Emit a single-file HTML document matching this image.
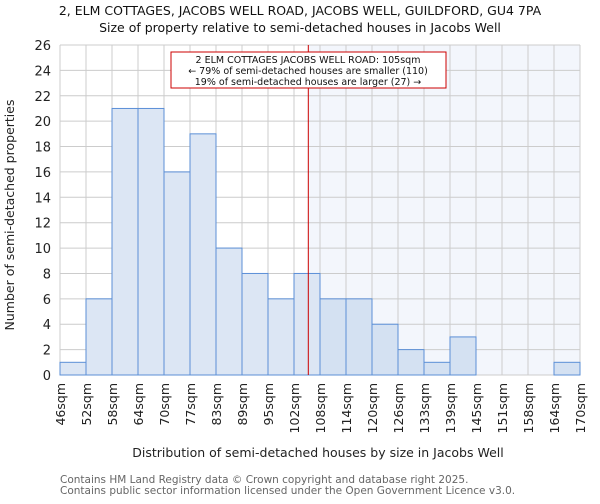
<!DOCTYPE html>
<html><head><meta charset="utf-8"><style>
body{margin:0;background:#fff;font-family:"DejaVu Sans","Liberation Sans",sans-serif;}
svg text{font-family:"DejaVu Sans","Liberation Sans",sans-serif;}
</style></head><body>
<svg id="c" width="600" height="500"></svg>
<script>
const categories=["46sqm","52sqm","58sqm","64sqm","70sqm","77sqm","83sqm","89sqm","95sqm","102sqm","108sqm","114sqm","120sqm","126sqm","133sqm","139sqm","145sqm","151sqm","158sqm","164sqm","170sqm"];
const counts=[1,6,21,21,16,19,10,8,6,8,6,6,4,2,1,3,0,0,0,1];
const yTicks=[0,2,4,6,8,10,12,14,16,18,20,22,24,26];
const markerBin=9.55;
const NS="http://www.w3.org/2000/svg";
const svg=document.getElementById('c');
const L=60,R=580,T=45,B=375,yMax=26;
const bw=(R-L)/counts.length;
const x=i=>L+i*bw;
const y=v=>B-(v/yMax)*(B-T);
function el(t,a,p){const e=document.createElementNS(NS,t);for(const k in a)e.setAttribute(k,a[k]);(p||svg).appendChild(e);return e;}
const mx=x(markerBin);
const sh=el('rect',{x:mx,y:T,width:R-mx,height:B-T,fill:'#f3f6fc'});


for(let i=0;i<=counts.length;i++){const g=el('line',{x1:x(i),x2:x(i),y1:T,y2:B,stroke:'#cccccc','stroke-width':1});

}
yTicks.forEach(v=>{const g=el('line',{x1:L,x2:R,y1:y(v),y2:y(v),stroke:'#cccccc','stroke-width':1});


const t=el('text',{x:L-9,y:y(v)+5,'text-anchor':'end','font-size':13,fill:'#222'});t.textContent=v;

});
counts.forEach((v,i)=>{if(v<=0)return;const r=el('rect',{x:x(i),y:y(v),width:bw,height:B-y(v),fill:(i>=10?'#d4e1f2':'#dce6f4'),stroke:'#5b8fd6','stroke-width':1});

});
categories.forEach((c,i)=>{const t=el('text',{transform:`translate(${x(i)+5},383) rotate(-90)`,'text-anchor':'end','font-size':12.5,fill:'#222'});t.textContent=c;

});
const ml=el('line',{x1:mx,x2:mx,y1:T,y2:B,stroke:'#cc0000','stroke-width':1});


const box=el('rect',{x:171,y:52,width:275,height:36,fill:'#fff',stroke:'#cc0000','stroke-width':1});


["2 ELM COTTAGES JACOBS WELL ROAD: 105sqm","← 79% of semi-detached houses are smaller (110)","19% of semi-detached houses are larger (27) →"].forEach((s,k)=>{const t=el('text',{x:308,y:63+k*11,'text-anchor':'middle','font-size':9.5,fill:'#111'});t.textContent=s;

});
const t1=el('text',{x:300,y:15,'text-anchor':'middle','font-size':12.5,fill:'#111'});t1.textContent="2, ELM COTTAGES, JACOBS WELL ROAD, JACOBS WELL, GUILDFORD, GU4 7PA";


const t2=el('text',{x:300,y:32,'text-anchor':'middle','font-size':12.5,fill:'#111'});t2.textContent="Size of property relative to semi-detached houses in Jacobs Well";


const yt=el('text',{transform:'translate(14,215) rotate(-90)','text-anchor':'middle','font-size':12.5,fill:'#222'});yt.textContent="Number of semi-detached properties";


const xt=el('text',{x:318,y:457,'text-anchor':'middle','font-size':12.5,fill:'#222'});xt.textContent="Distribution of semi-detached houses by size in Jacobs Well";


["Contains HM Land Registry data © Crown copyright and database right 2025.","Contains public sector information licensed under the Open Government Licence v3.0."].forEach((s,k)=>{const t=el('text',{x:60,y:483+k*11,'font-size':10.5,fill:'#666'});t.textContent=s;

});
</script>
</body></html>
